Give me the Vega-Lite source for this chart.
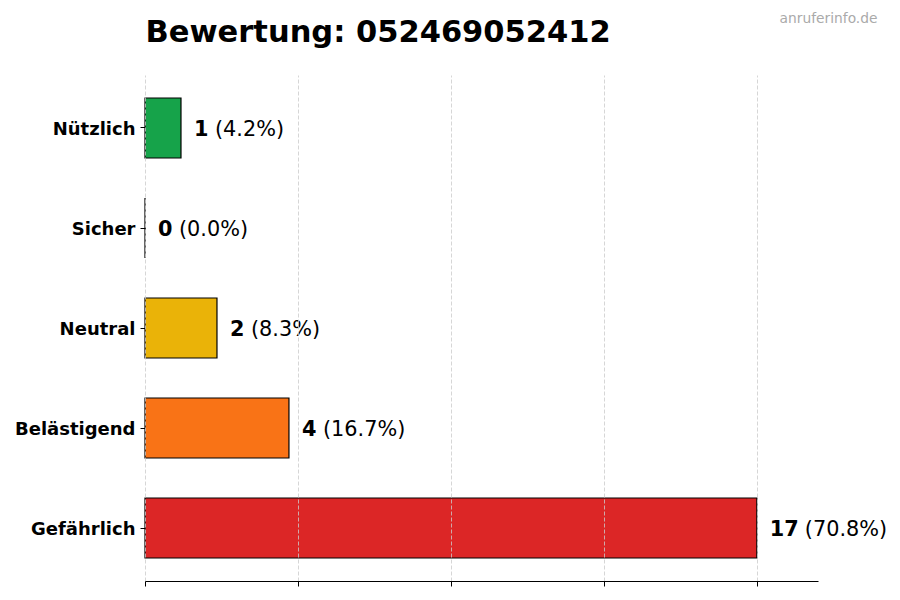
{
  "$schema": "https://vega.github.io/schema/vega-lite/v6.json",
  "width": 673,
  "height": 506,
  "autosize": "none",
  "padding": {"left": 145, "top": 75, "right": 82, "bottom": 19},
  "background": "white",
  "config": {
    "view": {"stroke": null},
    "font": "DejaVu Sans"
  },
  "data": {
    "values": [
      {"kategorie": "Nützlich", "anzahl": 1, "prozent": "(4.2%)"},
      {"kategorie": "Sicher", "anzahl": 0, "prozent": "(0.0%)"},
      {"kategorie": "Neutral", "anzahl": 2, "prozent": "(8.3%)"},
      {"kategorie": "Belästigend", "anzahl": 4, "prozent": "(16.7%)"},
      {"kategorie": "Gefährlich", "anzahl": 17, "prozent": "(70.8%)"}
    ]
  },
  "encoding": {
    "y": {
      "field": "kategorie",
      "type": "nominal",
      "sort": ["Nützlich", "Sicher", "Neutral", "Belästigend", "Gefährlich"],
      "scale": {"paddingInner": 0.4, "paddingOuter": 0.23},
      "axis": {
        "title": "Bewertung: 052469052412",
        "titleFont": "DejaVu Sans",
        "titleFontSize": 30.5,
        "titleFontWeight": "bold",
        "titleColor": "black",
        "titleAngle": 0,
        "titleAlign": "left",
        "titleBaseline": "alphabetic",
        "titleX": 0,
        "titleY": -34,
        "domain": false,
        "ticks": true,
        "tickSize": 5,
        "tickColor": "black",
        "tickWidth": 1,
        "labelFont": "DejaVu Sans",
        "labelFontSize": 18,
        "labelFontWeight": "bold",
        "labelColor": "black",
        "labelPadding": 5,
        "labelOffset": 2
      }
    }
  },
  "layer": [
    {
      "mark": {"type": "bar", "stroke": "black", "strokeWidth": 1.2},
      "encoding": {
        "x": {
          "field": "anzahl",
          "type": "quantitative",
          "scale": {"domain": [0, 18.7], "nice": false, "zero": true},
          "axis": {
            "title": null,
            "labels": false,
            "values": [0, 4.25, 8.5, 12.75, 17],
            "ticks": true,
            "tickSize": 5,
            "tickColor": "black",
            "domain": true,
            "domainColor": "black",
            "domainWidth": 1.2,
            "grid": true,
            "gridColor": "#cccccc",
            "gridDash": [4, 2],
            "gridWidth": 0.8,
            "zindex": 1
          }
        },
        "color": {
          "field": "kategorie",
          "type": "nominal",
          "legend": null,
          "scale": {
            "domain": ["Nützlich", "Sicher", "Neutral", "Belästigend", "Gefährlich"],
            "range": ["#16a34a", "#3b82f6", "#eab308", "#f97316", "#dc2626"]
          }
        }
      }
    },
    {
      "mark": {"type": "text", "align": "left", "baseline": "middle", "dx": 13, "dy": 1.5, "fontSize": 20.8, "fontWeight": "bold", "color": "black", "font": "DejaVu Sans"},
      "encoding": {
        "x": {
          "field": "anzahl",
          "type": "quantitative",
          "axis": {
            "orient": "top",
            "title": "anruferinfo.de",
            "titleFont": "DejaVu Sans",
            "titleFontSize": 13.8,
            "titleFontWeight": "normal",
            "titleColor": "#aaaaaa",
            "titleAlign": "right",
            "titleBaseline": "alphabetic",
            "titleX": 732,
            "titleY": -53,
            "labels": false,
            "ticks": false,
            "domain": false,
            "grid": false
          }
        },
        "text": {"field": "anzahl", "type": "quantitative", "format": "d"}
      }
    },
    {
      "transform": [{"filter": "datum.anzahl < 10"}],
      "mark": {"type": "text", "align": "left", "baseline": "middle", "dx": 34, "dy": 1.5, "fontSize": 20.8, "fontWeight": "normal", "color": "black", "font": "DejaVu Sans"},
      "encoding": {
        "x": {"field": "anzahl", "type": "quantitative", "axis": null},
        "text": {"field": "prozent", "type": "nominal"}
      }
    },
    {
      "transform": [{"filter": "datum.anzahl >= 10"}],
      "mark": {"type": "text", "align": "left", "baseline": "middle", "dx": 48, "dy": 1.5, "fontSize": 20.8, "fontWeight": "normal", "color": "black", "font": "DejaVu Sans"},
      "encoding": {
        "x": {"field": "anzahl", "type": "quantitative", "axis": null},
        "text": {"field": "prozent", "type": "nominal"}
      }
    }
  ],
  "resolve": {"axis": {"x": "independent"}}
}
